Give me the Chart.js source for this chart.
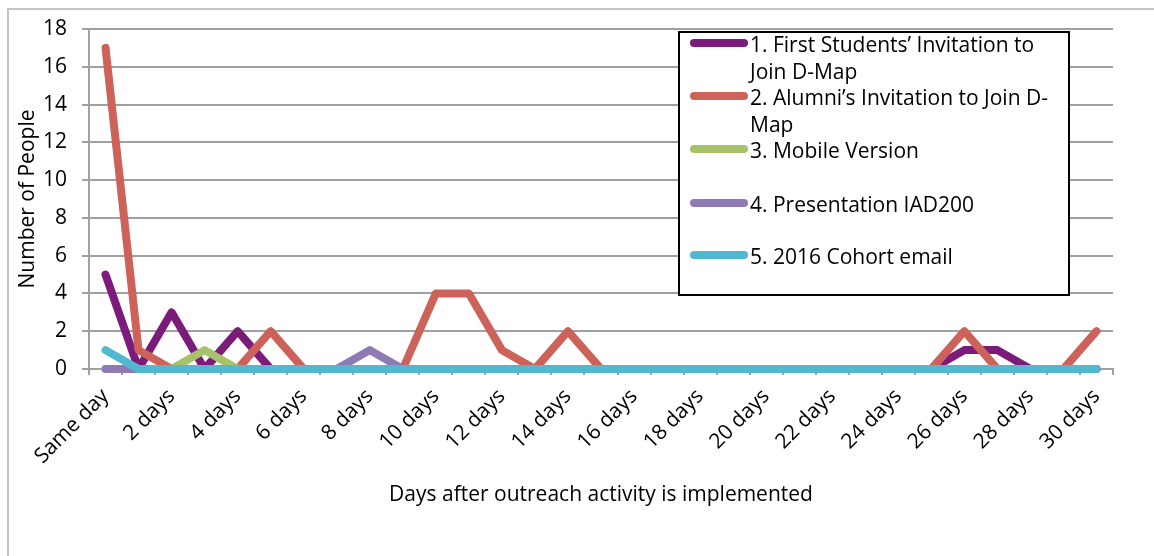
<!DOCTYPE html>
<html>
<head>
<meta charset="utf-8">
<script src="https://cdn.jsdelivr.net/npm/chart.js@4.4.1/dist/chart.umd.min.js"></script>
<style>
  body { margin: 0; background: #fff; font-family: "Open Sans", sans-serif; }
  .wrap { position: relative; width: 1154px; height: 556px; overflow: hidden; }
  .frame { position: absolute; left: 7px; top: 8px; width: 1300px; height: 700px;
           border-left: 2px solid #c4c4c4; border-top: 2px solid #c4c4c4; }
  canvas { position: absolute; left: 0; top: 0; }
  .legend { position: absolute; left: 678px; top: 31px; width: 388px; height: 261px;
            border: 2px solid #000; background: #fff; }
  .legend .swatch { position: absolute; left: 10px; width: 58px; height: 8px; border-radius: 4px; }
  .legend .txt { position: absolute; left: 70px; white-space: nowrap; font-size: 21px; line-height: 27px; color: #000; }
</style>
</head>
<body>
<div class="wrap">
  <div class="frame"></div>
  <canvas id="chart" width="1154" height="556"></canvas>
  <div class="legend" id="legend"></div>
</div>
<script>
const days = ["Same day", "1 day", "2 days", "3 days", "4 days", "5 days", "6 days", "7 days",
  "8 days", "9 days", "10 days", "11 days", "12 days", "13 days", "14 days", "15 days",
  "16 days", "17 days", "18 days", "19 days", "20 days", "21 days", "22 days", "23 days",
  "24 days", "25 days", "26 days", "27 days", "28 days", "29 days", "30 days"];

const firstStudents = [5, 0, 3, 0, 2, 0, 0, 0, 0, 0, 0, 0, 0, 0, 0, 0,
  0, 0, 0, 0, 0, 0, 0, 0, 0, 0, 1, 1, 0, 0, 0];
const alumni = [17, 1, 0, 0, 0, 2, 0, 0, 0, 0, 4, 4, 1, 0, 2, 0,
  0, 0, 0, 0, 0, 0, 0, 0, 0, 0, 2, 0, 0, 0, 2];
const mobileVersion = [0, 0, 0, 1, 0, 0, 0, 0, 0, 0, 0, 0, 0, 0, 0, 0,
  0, 0, 0, 0, 0, 0, 0, 0, 0, 0, 0, 0, 0, 0, 0];
const presentation = [0, 0, 0, 0, 0, 0, 0, 0, 1, 0, 0, 0, 0, 0, 0, 0,
  0, 0, 0, 0, 0, 0, 0, 0, 0, 0, 0, 0, 0, 0, 0];
const cohortEmail = [1, 0, 0, 0, 0, 0, 0, 0, 0, 0, 0, 0, 0, 0, 0, 0,
  0, 0, 0, 0, 0, 0, 0, 0, 0, 0, 0, 0, 0, 0, 0];

const seriesNames = [
  ["1. First Students\u2019 Invitation to", "Join D-Map"],
  ["2. Alumni\u2019s Invitation to Join D-", "Map"],
  ["3. Mobile Version"],
  ["4. Presentation IAD200"],
  ["5. 2016 Cohort email"]
];
const seriesColors = ["#7b1c7b", "#cd625a", "#a6c26a", "#8e7bb4", "#52b8d0"];
const seriesValues = [firstStudents, alumni, mobileVersion, presentation, cohortEmail];

const yTicks = [0, 2, 4, 6, 8, 10, 12, 14, 16, 18];

const tickFont = { family: "'Open Sans', sans-serif", size: 21 };
const titleFont = { family: "'Open Sans', sans-serif", size: 21 };

// later series are drawn on top, like the original
const datasets = seriesValues.map(function(vals, i) {
  return {
    label: seriesNames[i].join(" "),
    data: vals,
    borderColor: seriesColors[i],
    backgroundColor: seriesColors[i],
    borderWidth: 8,
    borderCapStyle: "round",
    borderJoinStyle: "round",
    pointRadius: 0,
    tension: 0,
    fill: false,
    clip: false,
    order: seriesValues.length - i
  };
});

new Chart(document.getElementById("chart"), {
  type: "line",
  data: { labels: days, datasets: datasets },
  options: {
    responsive: false,
    animation: false,
    layout: { padding: { top: 29, right: 41, left: 0, bottom: 0 } },
    plugins: { legend: { display: false }, tooltip: { enabled: false } },
    scales: {
      x: {
        offset: true,
        grid: { offset: true, drawOnChartArea: false, drawTicks: true, tickLength: 6, color: "#a0a0a0", lineWidth: 2 },
        border: { display: true, color: "#a0a0a0", width: 2 },
        ticks: {
          autoSkip: false, minRotation: 45, maxRotation: 45, color: "#000", font: tickFont, padding: 9,
          callback: function(v, idx) { return idx % 2 === 0 ? days[idx] : ""; }
        },
        title: { display: true, text: "Days after outreach activity is implemented", color: "#000",
                 font: titleFont, padding: { top: 0, bottom: 48 } },
        afterFit: function(s) { s.height = 187; }
      },
      y: {
        min: 0, max: 18,
        afterBuildTicks: function(s) { s.ticks = yTicks.map(function(v) { return { value: v }; }); },
        grid: { color: "#a0a0a0", lineWidth: 2, tickLength: 7 },
        border: { display: true, color: "#a0a0a0", width: 2 },
        ticks: { color: "#000", font: tickFont, padding: 15 },
        title: { display: true, text: "Number of People", color: "#000",
                 font: titleFont, padding: { top: 15, bottom: 0 } },
        afterFit: function(s) { s.width = 89; }
      }
    }
  }
});

// legend box
const legend = document.getElementById("legend");
const rowTops = [10, 63, 116, 170, 222];
seriesNames.forEach(function(lines, i) {
  const sw = document.createElement("div");
  sw.className = "swatch";
  sw.style.top = (rowTops[i] - 4) + "px";
  sw.style.background = seriesColors[i];
  legend.appendChild(sw);
  const t = document.createElement("div");
  t.className = "txt";
  t.style.top = (rowTops[i] - 12) + "px";
  t.innerHTML = lines.join("<br>");
  legend.appendChild(t);
});
</script>
</body>
</html>
